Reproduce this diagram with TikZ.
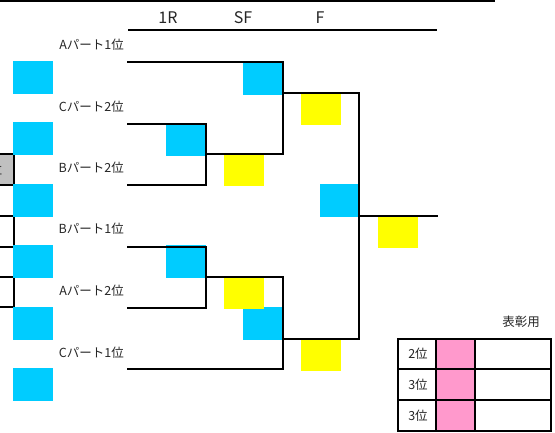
\documentclass[tikz,border=0pt]{standalone}
\usepackage{fontspec}
\setmainfont{Noto Sans CJK JP}
\definecolor{cblue}{HTML}{00CCFF}
\definecolor{cyel}{HTML}{FFFF00}
\definecolor{cpink}{HTML}{FF99CC}
\definecolor{cgray}{HTML}{C0C0C0}
\tikzset{
  bluebox/.style={fill=cblue,minimum width=40pt,minimum height=33pt,inner sep=0pt},
  yelbox/.style={fill=cyel,minimum width=40pt,minimum height=31pt,inner sep=0pt},
  lbl/.style={anchor=east,inner sep=0pt,font=\fontsize{12.5}{14}\selectfont,text=black!85},
  hdr/.style={inner sep=0pt,font=\fontsize{16}{18}\selectfont,text=black!85},
  brk/.style={line width=2pt,line cap=rect},
  hline/.style={line width=2.5pt},
}
\begin{document}
\begin{tikzpicture}[x=1pt,y=-1pt]
\useasboundingbox (0,0) rectangle (555,432);
\clip (0,0) rectangle (555,432);
% header lines
\coordinate (t0) at (0,1); \coordinate (t1) at (495,1);
\draw[hline] (t0) -- (t1);
\coordinate (h0) at (128,30); \coordinate (h1) at (437,30);
\draw[hline] (h0) -- (h1);
\node[hdr] (H1) at (168,18) {1R};
\node[hdr] (H2) at (243,18) {SF};
\node[hdr] (H3) at (320,18) {F};
% left partial table
\node[fill=cgray,draw=black,line width=2pt,minimum width=30pt,minimum height=31pt,inner sep=0pt] (g) at (-1,169.5) {};
\node[inner sep=0pt,font=\fontsize{12.5}{14}\selectfont,text=black!85] (gt) at (-4,170) {位};
\coordinate (v0) at (14,154); \coordinate (v1) at (14,307);
\draw[brk] (v0) -- (v1);
\foreach \yy/\nm in {185/ha,216/hb,247/hc,277/hd,307/he}{
  \coordinate (\nm0) at (0,\yy); \coordinate (\nm1) at (14,\yy);
  \draw[brk] (\nm0) -- (\nm1);
}
% left blue boxes
\node[bluebox] (lb1) at (33,77.5) {};
\node[bluebox] (lb2) at (33,138.5) {};
\node[bluebox] (lb3) at (33,200.5) {};
\node[bluebox] (lb4) at (33,261.5) {};
\node[bluebox] (lb5) at (33,323.5) {};
\node[bluebox] (lb6) at (33,384.5) {};
% labels
\node[lbl] (L1) at (124,45) {Aパート1位};
\node[lbl] (L2) at (124,107) {Cパート2位};
\node[lbl] (L3) at (124,168) {Bパート2位};
\node[lbl] (L4) at (124,229) {Bパート1位};
\node[lbl] (L5) at (124,291) {Aパート2位};
\node[lbl] (L6) at (124,353) {Cパート1位};
% bracket boxes
\node[bluebox] (sf1b) at (263,78) {};
\node[bluebox] (r1b) at (186,139) {};
\node[bluebox] (r2b) at (186,261.5) {};
\node[bluebox] (sf2b) at (263,323.5) {};
\node[bluebox] (fb) at (339.5,200.5) {};
\node[yelbox] (y1) at (244,170) {};
\node[yelbox] (y2) at (321,109.5) {};
\node[yelbox] (y3) at (398,232.5) {};
\node[yelbox] (y4) at (244,293.5) {};
\node[yelbox] (y5) at (321,355.5) {};
% bracket coordinates
\coordinate (p1s) at (128,62); \coordinate (sfT) at (283,62);
\coordinate (p2s) at (128,124); \coordinate (r1T) at (206,124);
\coordinate (p3s) at (128,185); \coordinate (r1B) at (206,185);
\coordinate (r1W) at (206,154); \coordinate (sfB) at (283,154);
\coordinate (sfW) at (283,93); \coordinate (fT) at (359,93);
\coordinate (fW) at (359,216); \coordinate (champ) at (437,216);
\coordinate (p4s) at (128,247); \coordinate (r2T) at (206,247);
\coordinate (p5s) at (128,308); \coordinate (r2B) at (206,308);
\coordinate (r2W) at (206,277); \coordinate (sf2T) at (283,277);
\coordinate (p6s) at (128,369); \coordinate (sf2B) at (283,369);
\coordinate (sf2W) at (283,339); \coordinate (fB) at (359,339);
\draw[brk] (p1s) -- (sfT) -- (sfB) -- (r1W);
\draw[brk] (p2s) -- (r1T) -- (r1B) -- (p3s);
\draw[brk] (sfW) -- (fT) -- (fB) -- (sf2W);
\draw[brk] (fW) -- (champ);
\draw[brk] (p4s) -- (r2T) -- (r2B) -- (p5s);
\draw[brk] (r2W) -- (sf2T) -- (sf2B) -- (p6s);
% award table
\node[inner sep=0pt,font=\fontsize{12.5}{14}\selectfont,text=black!85] (aw) at (521,322) {表彰用};
\fill[cpink] (436,339) rectangle (475,431);
\foreach \yy/\nm in {339/ra,369/rb,400/rc,431/rd}{
  \coordinate (\nm0) at (398,\yy); \coordinate (\nm1) at (551,\yy);
  \draw[brk] (\nm0) -- (\nm1);
}
\foreach \xx/\nm in {398/ca,436/cb,475/cc,551/cd}{
  \coordinate (\nm0) at (\xx,339); \coordinate (\nm1) at (\xx,431);
  \draw[brk] (\nm0) -- (\nm1);
}
\node[inner sep=0pt,font=\fontsize{12.5}{14}\selectfont,text=black!85] (k1) at (418,354) {2位};
\node[inner sep=0pt,font=\fontsize{12.5}{14}\selectfont,text=black!85] (k2) at (418,384.5) {3位};
\node[inner sep=0pt,font=\fontsize{12.5}{14}\selectfont,text=black!85] (k3) at (418,415.5) {3位};
\end{tikzpicture}
\end{document}
